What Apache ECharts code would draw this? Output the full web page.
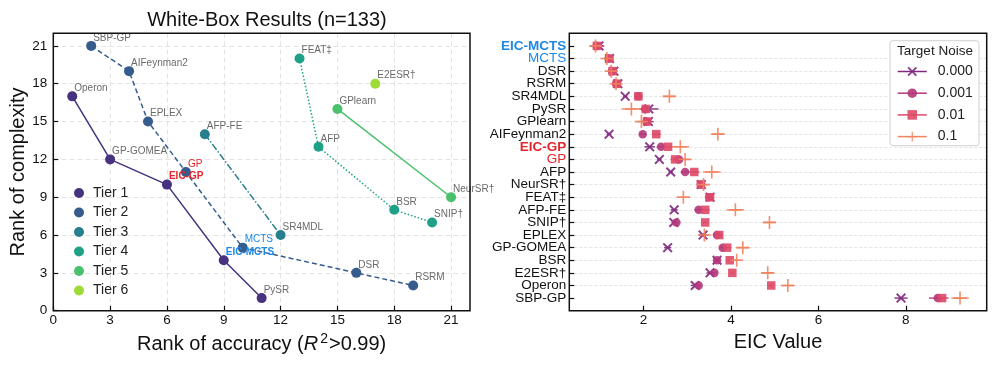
<!DOCTYPE html>
<html>
<head>
<meta charset="utf-8">
<script src="https://cdn.jsdelivr.net/npm/echarts@6/dist/echarts.min.js"></script>
<style>html,body{margin:0;padding:0;background:#fff}#c{width:997px;height:366px}</style>
</head>
<body>
<div id="c"></div>
<script>
// ---------- Left chart data (rank of accuracy, rank of complexity) ----------
const tierNames = ['Tier 1', 'Tier 2', 'Tier 3', 'Tier 4', 'Tier 5', 'Tier 6'];
const tier1Names = ['Operon', 'GP-GOMEA', 'EIC-GP', 'EIC-MCTS', 'PySR'];
const tier1X = [1, 3, 6, 9, 11];
const tier1Y = [17, 12, 10, 4, 1];
const tier2Names = ['SBP-GP', 'AIFeynman2', 'EPLEX', 'GP', 'MCTS', 'DSR', 'RSRM'];
const tier2X = [2, 4, 5, 7, 10, 16, 19];
const tier2Y = [21, 19, 15, 11, 5, 3, 2];
const tier3Names = ['AFP-FE', 'SR4MDL'];
const tier3X = [8, 12];
const tier3Y = [14, 6];
const tier4Names = ['FEAT‡', 'AFP', 'BSR', 'SNIP†'];
const tier4X = [13, 14, 18, 20];
const tier4Y = [20, 13, 8, 7];
const tier5Names = ['GPlearn', 'NeurSR†'];
const tier5X = [15, 21];
const tier5Y = [16, 9];
const tier6Names = ['E2ESR†'];
const tier6X = [17];
const tier6Y = [18];

// ---------- Right chart data (EIC value per method, per target noise) ----------
const methods = ['EIC-MCTS', 'MCTS', 'DSR', 'RSRM', 'SR4MDL', 'PySR', 'GPlearn', 'AIFeynman2', 'EIC-GP', 'GP', 'AFP', 'NeurSR†', 'FEAT‡', 'AFP-FE', 'SNIP†', 'EPLEX', 'GP-GOMEA', 'BSR', 'E2ESR†', 'Operon', 'SBP-GP'];
const noiseLevels = ['0.000', '0.001', '0.01', '0.1'];
const eicNoise0 = [0.98, 1.22, 1.32, 1.41, 1.58, 2.12, 2.11, 1.21, 2.14, 2.36, 2.62, 3.32, 3.52, 2.70, 2.69, 3.36, 2.55, 3.68, 3.52, 3.18, 7.89];
const eicNoise1 = [0.93, 1.20, 1.28, 1.37, 1.88, 2.04, 2.07, 1.98, 2.40, 2.81, 2.95, 3.31, 3.50, 3.26, 2.75, 3.68, 3.81, 3.68, 3.62, 3.26, 8.73];
const eicNoise2 = [0.93, 1.22, 1.29, 1.39, 1.88, 2.05, 2.08, 2.29, 2.56, 2.72, 3.16, 3.31, 3.52, 3.41, 3.41, 3.73, 3.91, 3.97, 4.03, 4.92, 8.83];
const eicNoise3 = [0.90, 1.16, 1.26, 1.37, 2.59, 1.72, 1.95, 3.70, 2.84, 2.95, 3.56, 3.37, 2.91, 4.10, 4.88, 3.39, 4.27, 4.13, 4.84, 5.30, 9.24];
const errNoise0 = [0.12, 0.08, 0.08, 0.08, 0.05, 0.22, 0.12, 0.05, 0.12, 0.05, 0.05, 0.05, 0.05, 0.08, 0.05, 0.10, 0.08, 0.06, 0.08, 0.10, 0.15];
const errNoise1 = [0.15, 0.08, 0.06, 0.06, 0.05, 0.10, 0.08, 0.08, 0.10, 0.08, 0.10, 0.05, 0.05, 0.10, 0.05, 0.08, 0.06, 0.06, 0.05, 0.05, 0.20];
const errNoise2 = [0.10, 0.08, 0.05, 0.05, 0.05, 0.08, 0.06, 0.10, 0.10, 0.10, 0.12, 0.05, 0.06, 0.10, 0.06, 0.08, 0.10, 0.06, 0.05, 0.05, 0.15];
const errNoise3 = [0.05, 0.08, 0.05, 0.05, 0.15, 0.22, 0.08, 0.15, 0.20, 0.10, 0.20, 0.10, 0.15, 0.20, 0.15, 0.10, 0.15, 0.10, 0.15, 0.15, 0.20];

// ---------- styles ----------
const FONT = 'Liberation Sans, Arial, Helvetica, sans-serif';
const tierColors = ['#46327e', '#365c8d', '#277f8e', '#1fa187', '#4ac16d', '#a0da39'];
const tierLineTypes = ['solid', [5, 3], [7, 2, 1.5, 2], [1.5, 2], 'solid', 'solid'];
const noiseColors = ['#7f2a7e', '#b5367a', '#de4968', '#f1845f'];
const BLUE = '#1e88e5', RED = '#e3262b';
const specialLabel = {
  'EIC-GP': { color: RED, fontWeight: 'bold' },
  'GP': { color: RED },
  'EIC-MCTS': { color: BLUE, fontWeight: 'bold' },
  'MCTS': { color: BLUE }
};
const X_PATH = 'path://M-5,-3.6 L-3.6,-5 L0,-1.4 L3.6,-5 L5,-3.6 L1.4,0 L5,3.6 L3.6,5 L0,1.4 L-3.6,5 L-5,3.6 L-1.4,0 Z';
const PLUS_PATH = 'path://M-0.75,-6 L0.75,-6 L0.75,-0.75 L6,-0.75 L6,0.75 L0.75,0.75 L0.75,6 L-0.75,6 L-0.75,0.75 L-6,0.75 L-6,-0.75 L-0.75,-0.75 Z';
const noiseSymbols = [X_PATH, 'circle', 'rect', PLUS_PATH];
const noiseSizes = [10, 8.5, 8.5, 13];

const tiers = [
  [tier1Names, tier1X, tier1Y], [tier2Names, tier2X, tier2Y], [tier3Names, tier3X, tier3Y],
  [tier4Names, tier4X, tier4Y], [tier5Names, tier5X, tier5Y], [tier6Names, tier6X, tier6Y]
];
const eicAll = [eicNoise0, eicNoise1, eicNoise2, eicNoise3];
const errAll = [errNoise0, errNoise1, errNoise2, errNoise3];

const series = [];
tiers.forEach(([nm, xs, ys], t) => {
  series.push({
    type: 'line', name: tierNames[t], xAxisIndex: 0, yAxisIndex: 0,
    data: nm.map((n, i) => {
      const item = { value: [xs[i], ys[i]], name: n };
      if (specialLabel[n]) item.label = Object.assign({}, specialLabel[n]);
      return item;
    }),
    symbol: 'circle', symbolSize: 10,
    itemStyle: { color: tierColors[t], opacity: 1 },
    lineStyle: { color: tierColors[t], width: 1.5, type: tierLineTypes[t] },
    label: {
      show: true, position: 'right', distance: 0, offset: [-3, -8],
      formatter: p => p.name, fontSize: 10, color: '#6b6b6b', fontFamily: FONT
    },
    emphasis: { disabled: true }, z: 3
  });
});

noiseLevels.forEach((lv, k) => {
  series.push({
    type: 'custom', name: lv + '_err', xAxisIndex: 1, yAxisIndex: 1,
    data: methods.map((m, i) => [i, eicAll[k][i] - errAll[k][i], eicAll[k][i] + errAll[k][i]]),
    encode: { x: [1, 2], y: 0 },
    renderItem: (params, api) => {
      const y = api.value(0);
      const p1 = api.coord([api.value(1), y]);
      const p2 = api.coord([api.value(2), y]);
      return { type: 'line', shape: { x1: p1[0], y1: p1[1], x2: p2[0], y2: p2[1] },
        style: { stroke: noiseColors[k], lineWidth: 1.5, opacity: 0.9 } };
    },
    silent: true, z: 2
  });
  series.push({
    type: 'line', name: lv, xAxisIndex: 1, yAxisIndex: 1,
    data: methods.map((m, i) => [eicAll[k][i], i]),
    symbol: noiseSymbols[k], symbolSize: noiseSizes[k], showSymbol: true,
    itemStyle: { color: noiseColors[k], opacity: 0.9 },
    lineStyle: { opacity: 0, width: 0.001 },
    emphasis: { disabled: true }, z: 3
  });
});

const axisText = { color: '#111', fontSize: 13.5, fontFamily: FONT };
const chart = echarts.init(document.getElementById('c'), null, { renderer: 'canvas' });
chart.setOption({
  animation: false,
  backgroundColor: '#fff',
  textStyle: { fontFamily: FONT },
  title: {
    text: 'White-Box Results (n=133)', left: 262, top: 5, textAlign: 'center',
    textStyle: { fontSize: 20, fontWeight: 'normal', color: '#111', fontFamily: FONT }
  },
  grid: [
    { left: 53.3, top: 33.3, width: 416.7, height: 277.4, show: true, borderColor: '#111', borderWidth: 1.5, backgroundColor: 'transparent', z: 4 },
    { left: 569.3, top: 33.3, width: 417.4, height: 277.4, show: true, borderColor: '#111', borderWidth: 1.5, backgroundColor: 'transparent', z: 4 }
  ],
  xAxis: [
    {
      type: 'value', gridIndex: 0, min: 0, max: 22, interval: 3,
      name: '{n|Rank of accuracy (}{i|R}{s|2}{n|>0.99)}', nameLocation: 'middle', nameGap: 17,
      nameTextStyle: { color: '#111', fontSize: 20, fontFamily: FONT,
        rich: { n: { fontSize: 20, color: '#111', fontFamily: FONT },
                i: { fontSize: 20, color: '#111', fontStyle: 'italic', fontFamily: FONT },
                s: { fontSize: 14, color: '#111', fontFamily: FONT, padding: [0, 1, 10, 2] } } },
      axisLine: { show: false, onZero: false },
      axisTick: { show: true, inside: true, length: 5, lineStyle: { color: '#111', width: 1.2 } },
      axisLabel: Object.assign({ showMaxLabel: false, margin: 3 }, axisText),
      splitLine: { show: true, showMinLine: false, showMaxLine: false, lineStyle: { color: '#e3e3e3', type: [5, 3], width: 1 } }
    },
    {
      type: 'value', gridIndex: 1, min: 0.3, max: 9.85,
      name: 'EIC Value', nameLocation: 'middle', nameGap: 15,
      nameTextStyle: { color: '#111', fontSize: 20, fontFamily: FONT },
      axisLine: { show: false, onZero: false },
      axisTick: { show: true, inside: true, length: 5, customValues: [2, 4, 6, 8], lineStyle: { color: '#111', width: 1.2 } },
      axisLabel: Object.assign({ margin: 3, customValues: [2, 4, 6, 8] }, axisText),
      splitLine: { show: false }
    }
  ],
  yAxis: [
    {
      type: 'value', gridIndex: 0, min: 0, max: 22, interval: 3,
      name: 'Rank of complexity', nameLocation: 'middle', nameGap: 25,
      nameTextStyle: { color: '#111', fontSize: 20, fontFamily: FONT },
      axisLine: { show: false, onZero: false },
      axisTick: { show: true, inside: true, length: 5, lineStyle: { color: '#111', width: 1.2 } },
      axisLabel: Object.assign({ showMaxLabel: false, margin: 6 }, axisText),
      splitLine: { show: true, showMinLine: false, showMaxLine: false, lineStyle: { color: '#e3e3e3', type: [5, 3], width: 1 } }
    },
    {
      type: 'value', gridIndex: 1, min: -1, max: 21, interval: 1, inverse: true,
      axisLine: { show: false, onZero: false },
      axisTick: { show: true, inside: true, length: 5, customValues: methods.map((m, i) => i), lineStyle: { color: '#111', width: 1.2 } },
      axisLabel: {
        margin: 3, fontSize: 13.5, color: '#111', fontFamily: FONT, showMinLabel: false, showMaxLabel: false,
        formatter: v => {
          const n = methods[v];
          if (n == null) return '';
          if (n === 'EIC-MCTS') return '{bb|' + n + '}';
          if (n === 'MCTS') return '{b|' + n + '}';
          if (n === 'EIC-GP') return '{rb|' + n + '}';
          if (n === 'GP') return '{r|' + n + '}';
          return n;
        },
        rich: {
          bb: { color: BLUE, fontWeight: 'bold', fontSize: 13.5, fontFamily: FONT },
          b: { color: BLUE, fontSize: 13.5, fontFamily: FONT },
          rb: { color: RED, fontWeight: 'bold', fontSize: 13.5, fontFamily: FONT },
          r: { color: RED, fontSize: 13.5, fontFamily: FONT }
        }
      },
      splitLine: { show: true, showMinLine: false, showMaxLine: false, lineStyle: { color: '#dddddd', type: [3, 2], width: 0.8 } }
    }
  ],
  legend: [
    {
      data: tierNames, orient: 'vertical', left: 74, top: 186, padding: 0,
      icon: 'circle', itemWidth: 10, itemHeight: 10, itemGap: 5.5,
      textStyle: { fontSize: 14, color: '#222', fontFamily: FONT, padding: [0, 0, 0, 4] },
      selectedMode: false
    },
    {
      data: noiseLevels, orient: 'vertical', left: 897, top: 64.5, padding: 0,
      itemWidth: 29, itemHeight: 12, itemGap: 7.7,
      lineStyle: { opacity: 1, width: 1.5 },
      textStyle: { fontSize: 14, color: '#222', fontFamily: FONT, padding: [0, 0, 0, 6] },
      selectedMode: false, z: 6
    }
  ],
  graphic: [
    { type: 'rect', z: 5, shape: { x: 890, y: 40.7, width: 89, height: 105, r: 3 },
      style: { fill: '#fff', stroke: '#d0d0d0', lineWidth: 1 } },
    { type: 'text', z: 6, x: 935, y: 51.7,
      style: { text: 'Target Noise', fontSize: 13.5, fill: '#222', fontFamily: FONT, align: 'center', verticalAlign: 'middle' } }
  ],
  series: series
});
</script>
</body>
</html>
